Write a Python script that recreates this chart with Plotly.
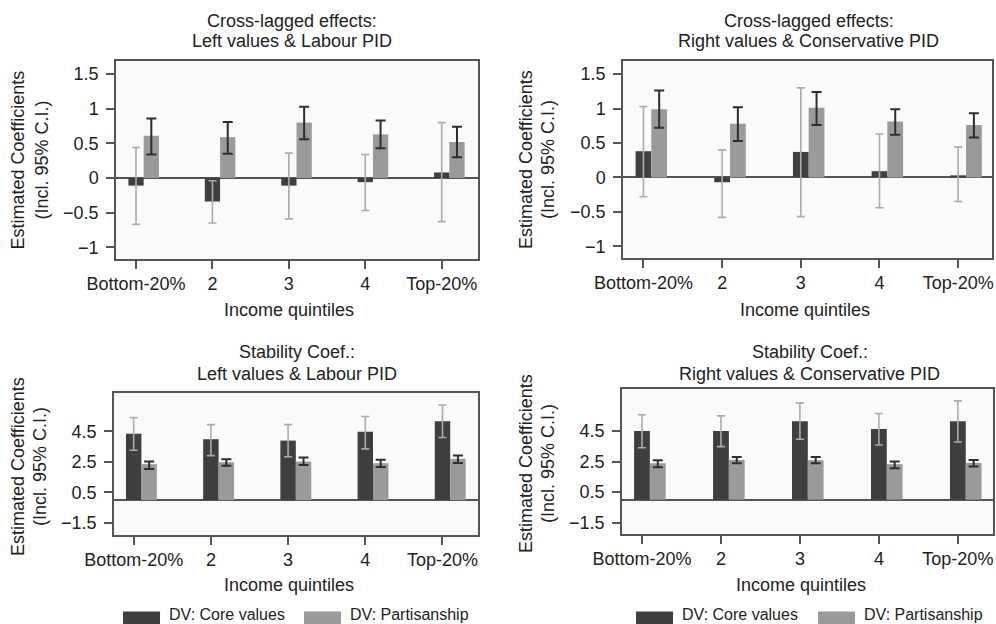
import plotly.graph_objects as go

W, H = 996, 624
OX, OY = 0, 0
FW, FH = W - OX, H - OY

quintiles = ["Bottom-20%", "2", "3", "4", "Top-20%"]
series_names = ["DV: Core values", "DV: Partisanship"]

# Panel 1: Cross-lagged, Left values & Labour PID
p1_core = [-0.11, -0.34, -0.11, -0.06, 0.08]
p1_core_hi = [0.44, -0.04, 0.36, 0.34, 0.80]
p1_core_lo = [-0.67, -0.65, -0.59, -0.47, -0.63]
p1_pid = [0.61, 0.59, 0.80, 0.63, 0.52]
p1_pid_hi = [0.86, 0.81, 1.03, 0.83, 0.74]
p1_pid_lo = [0.34, 0.35, 0.56, 0.43, 0.30]

# Panel 2: Cross-lagged, Right values & Conservative PID
p2_core = [0.38, -0.07, 0.37, 0.09, 0.03]
p2_core_hi = [1.03, 0.40, 1.30, 0.63, 0.44]
p2_core_lo = [-0.28, -0.58, -0.57, -0.44, -0.35]
p2_pid = [0.99, 0.78, 1.01, 0.81, 0.76]
p2_pid_hi = [1.26, 1.02, 1.24, 0.99, 0.93]
p2_pid_lo = [0.72, 0.53, 0.76, 0.62, 0.58]

# Panel 3: Stability, Left values & Labour PID
p3_core = [4.33, 3.98, 3.89, 4.46, 5.15]
p3_core_hi = [5.39, 4.93, 4.93, 5.46, 6.22]
p3_core_lo = [3.26, 2.91, 2.83, 3.35, 4.09]
p3_pid = [2.35, 2.48, 2.52, 2.41, 2.70]
p3_pid_hi = [2.52, 2.67, 2.78, 2.63, 2.91]
p3_pid_lo = [2.04, 2.24, 2.30, 2.17, 2.43]

# Panel 4: Stability, Right values & Conservative PID
p4_core = [4.50, 4.50, 5.15, 4.63, 5.15]
p4_core_hi = [5.57, 5.50, 6.35, 5.65, 6.48]
p4_core_lo = [3.41, 3.48, 3.96, 3.59, 3.78]
p4_pid = [2.39, 2.61, 2.59, 2.33, 2.41]
p4_pid_hi = [2.59, 2.80, 2.80, 2.50, 2.61]
p4_pid_lo = [2.13, 2.39, 2.39, 2.07, 2.17]

title_lines = [
    ["Cross-lagged effects:", "Left values & Labour PID"],
    ["Cross-lagged effects:", "Right values & Conservative PID"],
    ["Stability Coef.:", "Left values & Labour PID"],
    ["Stability Coef.:", "Right values & Conservative PID"],
]
xtitle = "Income quintiles"
ytitle_lines = ["Estimated Coefficients", "(Incl. 95% C.I.)"]

top_yticks = [-1, -0.5, 0, 0.5, 1, 1.5]
top_yticktext = ["\u22121", "\u22120.5", "0", "0.5", "1", "1.5"]
bot_yticks = [-1.5, 0.5, 2.5, 4.5]
bot_yticktext = ["\u22121.5", "0.5", "2.5", "4.5"]

DARK = "#3f3f3f"
LIGHT = "#9a9a9a"
ERR_DARK = "#2e2e2e"
ERR_LIGHT = "#ababab"
AXC = "#555555"
TXT = "#222222"
FONT = "Liberation Sans, Arial, sans-serif"
FS = 18


def px(x):
    return (x - OX) / FW


def py(y):
    return 1 - (y - OY) / FH


# layout (window pixels) per panel
panels = [
    dict(core=p1_core, chi=p1_core_hi, clo=p1_core_lo, pid=p1_pid, phi=p1_pid_hi, plo=p1_pid_lo,
         box=(116, 478, 61, 259), yr=[-1.17, 1.69], yt=top_yticks, ytt=top_yticktext,
         xr=[-0.262, 4.475], tx=292, ty=(20.7, 41), xtx=289, xty=310, ytx=(18, 42), yty=160.5),
    dict(core=p2_core, chi=p2_core_hi, clo=p2_core_lo, pid=p2_pid, phi=p2_pid_hi, plo=p2_pid_lo,
         box=(623, 992, 61, 258), yr=[-1.17, 1.69], yt=top_yticks, ytt=top_yticktext,
         xr=[-0.26, 4.43], tx=808.5, ty=(20.7, 41), xtx=805, xty=310, ytx=(526, 548), yty=160),
    dict(core=p3_core, chi=p3_core_hi, clo=p3_core_lo, pid=p3_pid, phi=p3_pid_hi, plo=p3_pid_lo,
         box=(114, 478, 393, 535), yr=[-2.28, 7.0], yt=bot_yticks, ytt=bot_yticktext,
         xr=[-0.255, 4.46], tx=296.5, ty=(351.7, 374), xtx=289, xty=585, ytx=(18, 40), yty=467),
    dict(core=p4_core, chi=p4_core_hi, clo=p4_core_lo, pid=p4_pid, phi=p4_pid_hi, plo=p4_pid_lo,
         box=(622, 993, 389, 534), yr=[-2.25, 7.26], yt=bot_yticks, ytt=bot_yticktext,
         xr=[-0.253, 4.445], tx=809.5, ty=(351.7, 374), xtx=801, xty=585, ytx=(526, 548), yty=464),
]

fig = go.Figure()
idx = list(range(len(quintiles)))
annotations = []
shapes = []


def ann(text, x, y, angle=0, xanchor="center", size=FS):
    annotations.append(dict(text=text, x=px(x), y=py(y), xref="paper", yref="paper",
                            xanchor=xanchor, yanchor="middle", textangle=angle, showarrow=False,
                            font=dict(family=FONT, size=size, color=TXT)))


for k, p in enumerate(panels):
    n = "" if k == 0 else str(k + 1)
    xa, ya = "x" + n, "y" + n
    core_plus = [h - v for h, v in zip(p["chi"], p["core"])]
    core_minus = [v - l for v, l in zip(p["core"], p["clo"])]
    pid_plus = [h - v for h, v in zip(p["phi"], p["pid"])]
    pid_minus = [v - l for v, l in zip(p["pid"], p["plo"])]
    fig.add_trace(go.Bar(
        x=[i for i in idx], y=p["core"], width=0.2, marker=dict(color=DARK, line=dict(width=0)),
        error_y=dict(type="data", array=core_plus, arrayminus=core_minus, color=ERR_LIGHT,
                     thickness=1.6, width=4),
        xaxis=xa, yaxis=ya, showlegend=False, name=series_names[0]))
    fig.add_trace(go.Bar(
        x=[i + 0.2 for i in idx], y=p["pid"], width=0.2, marker=dict(color=LIGHT, line=dict(width=0)),
        error_y=dict(type="data", array=pid_plus, arrayminus=pid_minus, color=ERR_DARK,
                     thickness=2, width=5),
        xaxis=xa, yaxis=ya, showlegend=False, name=series_names[1]))

    x0, x1, y0, y1 = p["box"]
    fig.layout["xaxis" + n] = dict(
        domain=[px(x0), px(x1)], range=p["xr"], anchor=ya, tickvals=idx, ticktext=quintiles,
        showline=True, mirror=True, linecolor=AXC, linewidth=1.5, ticks="outside",
        ticklen=8, tickcolor=AXC, tickwidth=1.5, showgrid=False, zeroline=False, automargin=False,
        tickfont=dict(family=FONT, size=FS, color=TXT), fixedrange=True)
    fig.layout["yaxis" + n] = dict(
        domain=[py(y1), py(y0)], range=p["yr"], anchor=xa, tickvals=p["yt"], ticktext=p["ytt"],
        showline=True, mirror=True, linecolor=AXC, linewidth=1.5, ticks="outside",
        ticklen=8, tickcolor=AXC, tickwidth=1.5, showgrid=False, zeroline=True,
        zerolinecolor=AXC, zerolinewidth=1.5, automargin=False, ticklabelstandoff=4,
        tickfont=dict(family=FONT, size=FS, color=TXT), fixedrange=True)

    ann(title_lines[k][0], p["tx"], p["ty"][0])
    ann(title_lines[k][1], p["tx"], p["ty"][1])
    ann(xtitle, p["xtx"], p["xty"])
    ann(ytitle_lines[0], p["ytx"][0], p["yty"], angle=-90)
    ann(ytitle_lines[1], p["ytx"][1], p["yty"], angle=-90)

# legends (bottom)
for dk_x, lt_x in [(123, 304), (636, 818)]:
    for rx, col, name in [(dk_x, DARK, series_names[0]), (lt_x, LIGHT, series_names[1])]:
        shapes.append(dict(type="rect", xref="paper", yref="paper",
                           x0=px(rx), x1=px(rx + 37), y0=py(626), y1=py(611.5),
                           fillcolor=col, line=dict(width=0)))
        ann(name, rx + 44, 614, xanchor="left", size=16)

fig.update_layout(
    template="none",
    width=FW, height=FH, margin=dict(l=0, r=0, t=0, b=0, autoexpand=False),
    paper_bgcolor="#ffffff", plot_bgcolor="#fafafa",
    barmode="overlay", showlegend=False,
    annotations=annotations, shapes=shapes,
    font=dict(family=FONT, size=FS, color=TXT),
)

fig.write_html(
    "out.html",
    config={"displayModeBar": False},
    post_script="document.body.style.margin='0';document.body.style.overflow='hidden';",
)
